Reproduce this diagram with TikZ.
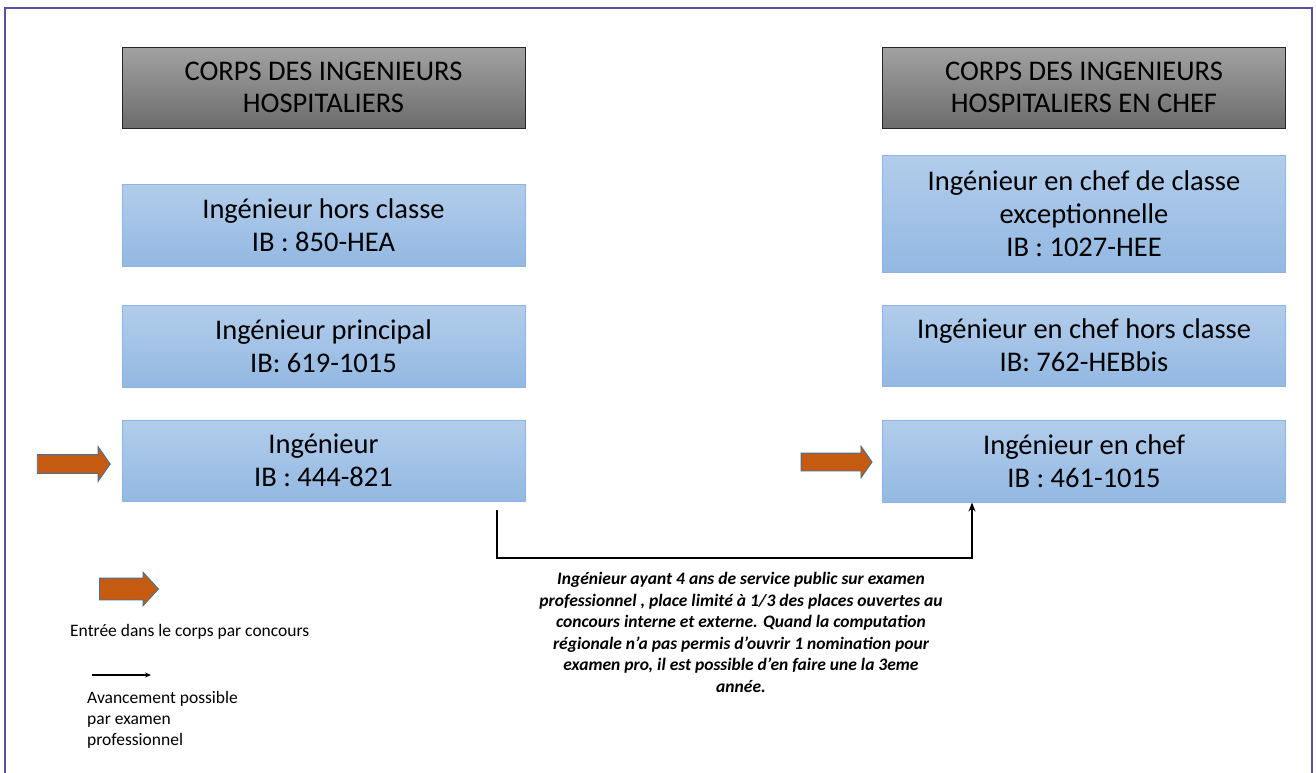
\documentclass[tikz,border=0pt]{standalone}
\usepackage{fontspec}
\setmainfont{Carlito}
\usetikzlibrary{shapes.arrows,arrows.meta}
\definecolor{frame}{HTML}{5A4FA0}
\definecolor{blueT}{HTML}{B2CDEB}
\definecolor{blueB}{HTML}{93B8E2}
\definecolor{blueD}{HTML}{8EB4E3}
\definecolor{grayT}{HTML}{A2A2A2}
\definecolor{grayB}{HTML}{6C6C6C}
\definecolor{orangeF}{HTML}{C55A11}
\definecolor{arrowE}{HTML}{41719C}
\tikzset{
  x=1pt,y=-1pt,
  hdr/.style={draw=black!85,line width=1pt,top color=grayT,bottom color=grayB,
    minimum width=403pt,align=center,inner sep=0pt,
    font=\fontsize{28.5}{32}\selectfont},
  grade/.style={draw=blueD,line width=1pt,top color=blueT,bottom color=blueB,
    minimum width=403pt,align=center,inner sep=0pt,
    font=\fontsize{28.5}{33}\selectfont},
  entry/.style={single arrow,draw=arrowE,line width=0.8pt,fill=orangeF,
    single arrow head extend=8pt,single arrow tip angle=110,inner sep=9pt},
  note/.style={align=center,font=\fontsize{17.5}{21.5}\selectfont\bfseries\itshape},
  legend/.style={align=left,anchor=west,inner sep=0pt,font=\fontsize{17.5}{21}\selectfont},
  adv/.style={-{Stealth[length=9pt,width=7pt]},line width=1.2pt}
}
\begin{document}
\begin{tikzpicture}
\useasboundingbox (0,0) rectangle (1316,772);
\fill[white] (0,0) rectangle (1316,772);
\draw[frame,line width=2.5pt] (5,780) -- (5,8) -- (1312,8) -- (1312,780);

\node[hdr,minimum height=81pt] (hL) at (323.5,87.5) {CORPS DES INGENIEURS\\HOSPITALIERS};
\node[hdr,minimum height=81pt] (hR) at (1084,87.5) {CORPS DES INGENIEURS\\HOSPITALIERS EN CHEF};

\node[grade,minimum height=82pt] (hc) at (323.5,225) {Ingénieur hors classe\\IB : 850-HEA};
\node[grade,minimum height=82pt] (pr) at (323.5,346) {Ingénieur principal\\IB: 619-1015};
\node[grade,minimum height=81pt] (ing) at (323.5,460.5) {Ingénieur\\IB : 444-821};

\node[grade,minimum height=117pt] (ex) at (1084,213.5) {Ingénieur en chef de classe\\exceptionnelle\\IB : 1027-HEE};
\node[grade,minimum height=81pt] (chc) at (1084,345.5) {Ingénieur en chef hors classe\\IB: 762-HEBbis};
\node[grade,minimum height=82pt] (ch) at (1084,461) {Ingénieur en chef\\IB : 461-1015};

\node[entry,minimum height=73pt] (aL) at (70.5,464) {};
\node[entry,minimum height=71pt,inner sep=8.5pt,single arrow head extend=7pt] (aR) at (833.5,462) {};
\node[entry,minimum height=59pt,inner sep=10.5pt,single arrow head extend=6pt,single arrow tip angle=95] (aLeg) at (124,589) {};

\coordinate (c1) at (497,510);
\coordinate (c2) at (972,558);
\draw[adv] (c1) |- (c2) -- (c2 |- ch.south);

\node[note] (nt) at (741,632.5) {Ingénieur ayant 4 ans de service public sur examen\\professionnel , place limité à 1/3 des places ouvertes au\\concours interne et externe. Quand la computation\\régionale n’a pas permis d’ouvrir 1 nomination pour\\examen pro, il est possible d’en faire une la 3eme\\année.};

\node[legend] (l1) at (70,632) {Entrée dans le corps par concours};
\coordinate (la) at (92,675);
\coordinate (lb) at (151,675);
\draw[-{Stealth[length=6pt,width=5pt]},line width=1.2pt] (la) -- (lb);
\node[legend] (l2) at (87,720) {Avancement possible\\par examen\\professionnel};
\end{tikzpicture}
\end{document}
